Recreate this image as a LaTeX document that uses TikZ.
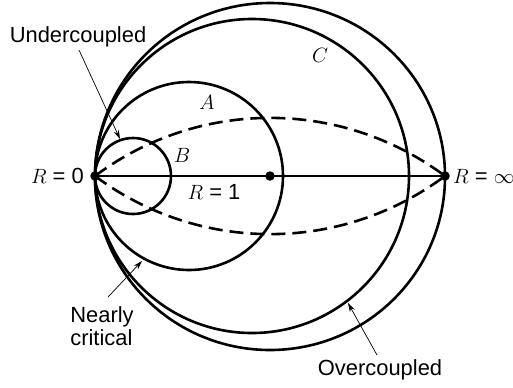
\documentclass[tikz,border=0pt]{standalone}
\usepackage{fontspec}
\setmainfont{Liberation Sans}
\usetikzlibrary{arrows.meta}
\begin{document}
\begin{tikzpicture}[x=1bp,y=-1bp,
  curve/.style={line width=2.6bp},
  locus/.style={line width=2.6bp, dash pattern=on 14bp off 7bp},
  pointer/.style={line width=0.7bp, -{Stealth[length=9bp,width=5.5bp]}},
  lbl/.style={font=\fontsize{22}{23}\selectfont, inner sep=0pt},
  dot/.style={circle, fill, inner sep=0pt, minimum size=9.5bp}]
\useasboundingbox (0,0) rectangle (513,387);
% curves
\draw[curve] (270,176.5) ellipse[x radius=175, y radius=173.5];
\draw[curve] (252,176) circle[radius=157];
\draw[curve] (189,176) circle[radius=94];
\draw[curve] (133,176) circle[radius=38];
% points
\node[dot] (R0) at (95,176) {};
\node[dot] (R1) at (270,176) {};
\node[dot] (Rinf) at (445,176) {};
\draw[curve] (R0.center) -- (Rinf.center);
\draw[locus] (R0.center) .. controls (199,98.5) and (341,98.5) .. (Rinf.center);
\draw[locus] (R0.center) .. controls (199,253.5) and (341,253.5) .. (Rinf.center);
% labels
\node[lbl, anchor=east] (l0) at (84,176) {$R$ = 0};
\node[lbl, anchor=west] (linf) at (453,176) {$R$ = $\infty$};
\node[lbl] (l1) at (214,192) {$R$ = 1};
\node[lbl] (lA) at (207,102) {$A$};
\node[lbl] (lB) at (182,155) {$B$};
\node[lbl] (lC) at (320,55) {$C$};
\node[lbl] (under) at (78,37) {Undercoupled};
\node[lbl, align=left] (near) at (102,326) {Nearly\\critical};
\node[lbl] (over) at (380,370) {Overcoupled};
% pointers
\coordinate (uTail) at (79,50);
\coordinate (uTip) at (120,139);
\coordinate (nTail) at (108,297);
\coordinate (nTip) at (142,261);
\coordinate (oTail) at (377,355);
\coordinate (oTip) at (348,303);
\draw[pointer] (uTail) -- (uTip);
\draw[pointer] (nTail) -- (nTip);
\draw[pointer] (oTail) -- (oTip);
\end{tikzpicture}
\end{document}
